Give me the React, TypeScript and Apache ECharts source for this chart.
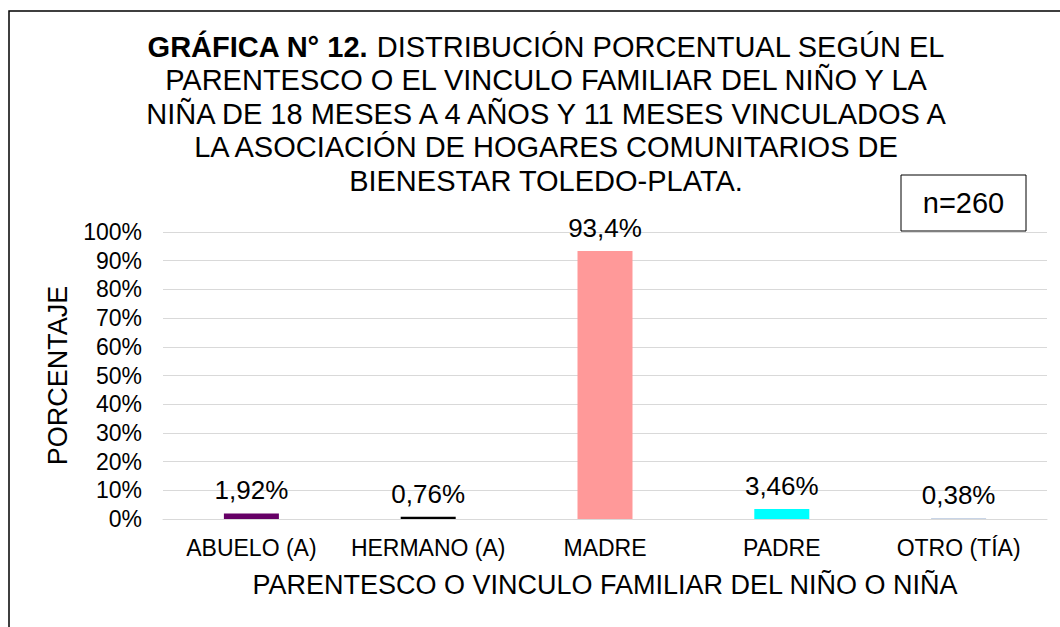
import React, { useEffect, useRef } from "react";
import * as echarts from "echarts";

const categories = ["ABUELO (A)", "HERMANO (A)", "MADRE", "PADRE", "OTRO (TÍA)"];
const values = [1.92, 0.76, 93.4, 3.46, 0.38];
const barColors = ["#660066", "#000000", "#FF9999", "#00FFFF", "#C8D4E6"];
const yTicks = [0, 10, 20, 30, 40, 50, 60, 70, 80, 90, 100];

const titleLines = [
  "{b|GRÁFICA N° 12.} DISTRIBUCIÓN PORCENTUAL SEGÚN EL",
  "PARENTESCO O EL VINCULO FAMILIAR DEL NIÑO Y LA",
  "NIÑA DE 18 MESES A 4 AÑOS Y 11 MESES VINCULADOS A",
  "LA ASOCIACIÓN DE HOGARES COMUNITARIOS DE",
  "BIENESTAR TOLEDO-PLATA.",
];

export default function App() {
  const ref = useRef<HTMLDivElement>(null);
  useEffect(() => {
    document.body.style.margin = "0";
    const chart = echarts.init(ref.current!, undefined, { renderer: "svg" });
    const font = "'Liberation Sans', Arial, sans-serif";
    chart.setOption({
      animation: false,
      backgroundColor: "#ffffff",
      textStyle: { fontFamily: font, color: "#000" },
      title: {
        text: titleLines.join("\n"),
        left: 541,
        top: 25,
        textAlign: "center",
        textStyle: {
          fontFamily: font,
          fontSize: 29,
          fontWeight: "normal",
          color: "#000",
          lineHeight: 33.5,
          rich: {
            b: { fontFamily: font, fontSize: 29, fontWeight: "bold", color: "#000", lineHeight: 33.5 },
          },
        },
      },
      graphic: [
        {
          type: "rect",
          shape: { x: 9, y: 11, width: 1100, height: 700 },
          style: { fill: "none", stroke: "#000", lineWidth: 1.5 },
          silent: true,
        },
        {
          type: "rect",
          shape: { x: 901, y: 175, width: 125, height: 56 },
          style: { fill: "#fff", stroke: "#000", lineWidth: 1 },
          z: 10,
        },
        {
          type: "text",
          x: 963.5,
          y: 203,
          style: {
            text: "n=260",
            fontFamily: font,
            fontSize: 29,
            fill: "#000",
            align: "center",
            verticalAlign: "middle",
          },
          z: 11,
        },
      ],
      grid: { left: 163, right: 13, top: 232, bottom: 108, containLabel: false },
      xAxis: {
        type: "category",
        data: categories,
        axisLine: { show: true, lineStyle: { color: "#d9d9d9", width: 1 } },
        axisTick: { show: false },
        axisLabel: { fontFamily: font, fontSize: 23, color: "#000", margin: 17, interval: 0 },
        name: "PARENTESCO O VINCULO FAMILIAR DEL NIÑO O NIÑA",
        nameLocation: "middle",
        nameGap: 52,
        nameTextStyle: { fontFamily: font, fontSize: 27, color: "#000" },
      },
      yAxis: {
        type: "value",
        min: yTicks[0],
        max: yTicks[yTicks.length - 1],
        interval: 10,
        axisLine: { show: false },
        axisTick: { show: false },
        splitLine: { lineStyle: { color: "#d9d9d9", width: 1 } },
        axisLabel: { fontFamily: font, fontSize: 23, color: "#000", margin: 21, formatter: "{value}%" },
        name: "PORCENTAJE",
        nameLocation: "middle",
        nameGap: 92,
        nameTextStyle: { fontFamily: font, fontSize: 27, color: "#000" },
      },
      series: [
        {
          type: "bar",
          barWidth: 55,
          data: values.map((v, i) => ({ value: v, itemStyle: { color: barColors[i] } })),
          label: {
            show: true,
            position: "top",
            distance: 10,
            fontFamily: font,
            fontSize: 26,
            color: "#000",
            formatter: (p: any) => String(p.value).replace(".", ",") + "%",
          },
        },
      ],
    });
    return () => chart.dispose();
  }, []);
  return <div ref={ref} style={{ width: 1060, height: 627 }} />;
}
